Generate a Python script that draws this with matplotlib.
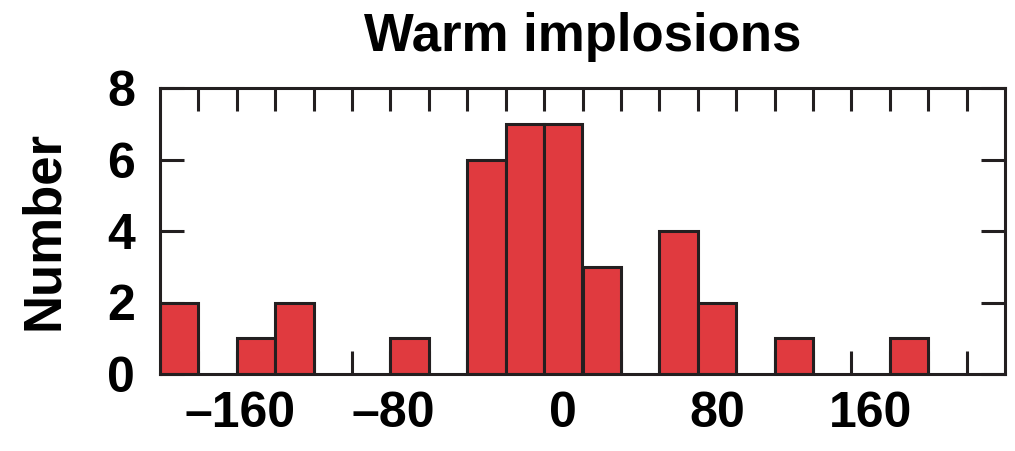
import numpy as np
import matplotlib.pyplot as plt
from matplotlib.transforms import ScaledTranslation

# ======================
# Data (bin centres, counts)
# ======================
bin_centers = [-200, -160, -140, -80, -40, -20, 0, 20, 60, 80, 120, 180]
counts = [2, 1, 2, 1, 6, 7, 7, 3, 4, 2, 1, 1]
bin_width = 20

x_labels_pos = [-160, -80, 0, 80, 160]
x_labels = ["\u2013160", "\u201380", "0", "80", "160"]
y_ticks = [0, 2, 4, 6, 8]

plt.rcParams["font.family"] = ["Liberation Sans", "DejaVu Sans"]
plt.rcParams["font.weight"] = "bold"

BAR_RED = "#e03a3f"
EDGE = "#231f20"

fig = plt.figure(figsize=(10.15, 4.51), dpi=100)
ax = fig.add_axes([160 / 1015, 77 / 451, 845 / 1015, 286 / 451])

ax.bar(
    bin_centers,
    counts,
    width=bin_width,
    color=BAR_RED,
    edgecolor=EDGE,
    linewidth=2.2,
    zorder=2,
)

ax.set_xlim(-210, 230)
ax.set_ylim(0, 8)

# labelled positions carry no tick mark; marks sit on the bin edges
ax.set_xticks(x_labels_pos)
ax.set_xticklabels(x_labels)
ax.set_xticks(np.arange(-190, 211, 20), minor=True)
ax.tick_params(axis="x", which="major", length=0, pad=12, labelsize=36)
ax.tick_params(axis="x", which="minor", direction="in", length=16.5,
               width=2.2, color=EDGE, top=True, bottom=True)

# digits centred on the value, the dash hangs out to the left
shift = ScaledTranslation(-16 / 100, 0, fig.dpi_scale_trans)
for lbl in ax.get_xticklabels():
    if lbl.get_text().startswith("\u2013"):
        lbl.set_transform(lbl.get_transform() + shift)

ax.set_yticks(y_ticks)
ax.tick_params(axis="y", which="major", direction="in", length=17,
               width=2.2, color=EDGE, left=True, right=True,
               pad=18, labelsize=36)

for s in ax.spines.values():
    s.set_linewidth(2.2)
    s.set_color(EDGE)
    s.set_zorder(3)

ax.set_title("Warm implosions", fontsize=38, fontweight="bold", pad=27)
ax.set_ylabel("Number", fontsize=38, fontweight="bold")
ax.yaxis.set_label_coords(-0.108, 0.5)

plt.savefig("out.png", dpi=100)
